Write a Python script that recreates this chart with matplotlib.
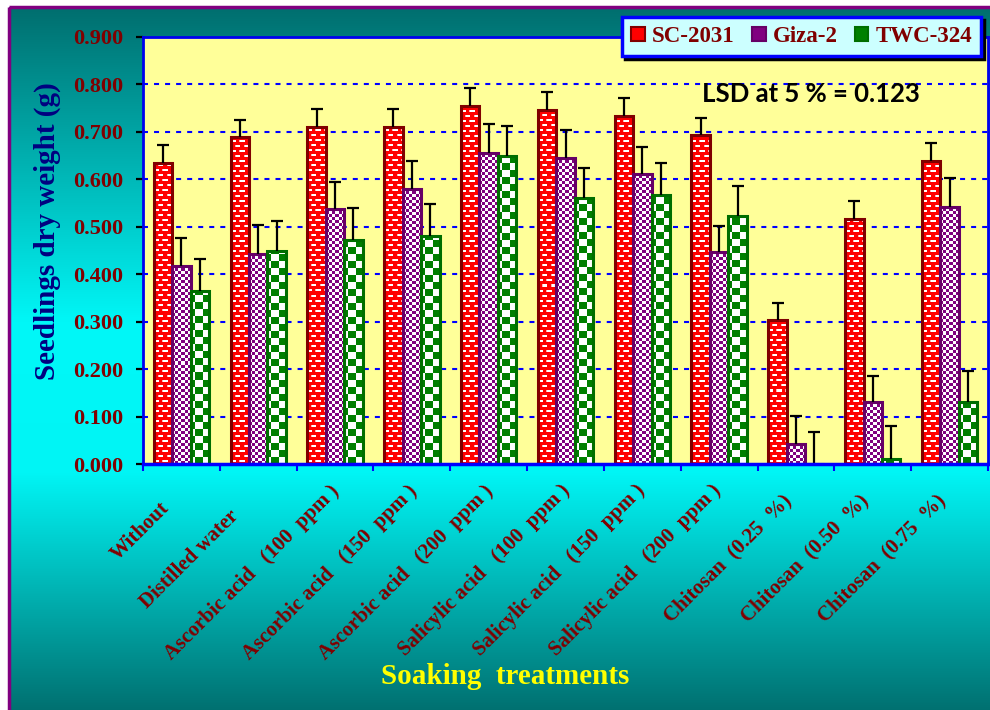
import numpy as np
import matplotlib
matplotlib.use("Agg")
import matplotlib.pyplot as plt
from matplotlib.patches import Patch, Rectangle

# ---------------- data ----------------
categories = ["Without", "Distilled water",
              "Ascorbic acid   (100  ppm )", "Ascorbic acid   (150  ppm )",
              "Ascorbic acid   (200  ppm )", "Salicylic acid   (100  ppm )",
              "Salicylic acid   (150  ppm )", "Salicylic acid   (200  ppm )",
              "Chitosan  (0.25  %)", "Chitosan  (0.50  %)", "Chitosan  (0.75  %)"]
series_names = ["SC-2031", "Giza-2", "TWC-324"]
sc_2031 = [0.635, 0.689, 0.711, 0.711, 0.754, 0.747, 0.733, 0.693, 0.304, 0.516, 0.638]
giza_2 = [0.418, 0.443, 0.538, 0.579, 0.656, 0.645, 0.612, 0.446, 0.042, 0.130, 0.542]
twc_324 = [0.365, 0.450, 0.472, 0.480, 0.649, 0.561, 0.568, 0.523, 0.000, 0.011, 0.130]
sc_err = [0.037, 0.037, 0.038, 0.038, 0.039, 0.038, 0.038, 0.037, 0.036, 0.038, 0.038]
giza_err = [0.058, 0.060, 0.057, 0.059, 0.060, 0.060, 0.056, 0.056, 0.059, 0.055, 0.060]
twc_err = [0.068, 0.063, 0.067, 0.067, 0.063, 0.062, 0.067, 0.064, 0.068, 0.069, 0.067]
y_ticks = [0.0, 0.1, 0.2, 0.3, 0.4, 0.5, 0.6, 0.7, 0.8, 0.9]
lsd_text = "LSD at 5 % = 0.123"

# ---------------- figure ----------------
W, H = 990, 710
fig = plt.figure(figsize=(W / 100, H / 100), dpi=100)
fig.patch.set_facecolor("white")

# background gradient
bg = fig.add_axes([0, 0, 1, 1], zorder=-10)
bg.set_xlim(0, W)
bg.set_ylim(H, 0)
bg.axis("off")
yy = np.arange(H)
v = np.interp(yy, [0, 320, 470, 710], [110, 248, 245, 112]) / 255.0
grad = np.zeros((H, 2, 3))
grad[:, :, 1] = v[:, None]
grad[:, :, 2] = v[:, None]
bg.imshow(grad, extent=(9, W, H, 7), aspect="auto", interpolation="bilinear")
bg.add_patch(Rectangle((8.5, 6.5), W + 10, H + 10, fill=False,
                       edgecolor="#800080", lw=2.5))

# main axes
ax = fig.add_axes([143 / W, 1 - 464 / H, 845 / W, 427 / H], zorder=1)
ax.set_facecolor("#ffff99")
ax.set_xlim(-0.5, len(categories) - 0.5)
ax.set_ylim(0, 0.9)

x = np.arange(len(categories))
bw = 0.24
series = [sc_2031, giza_2, twc_324]
errs = [sc_err, giza_err, twc_err]
base_cols = ["#ff0000", "#800080", "#008000"]
edge_cols = ["#800000", "#660066", "#006e00"]


def tile(kind, ph, pw):
    yy_, xx_ = np.mgrid[0:ph, 0:pw]
    img = np.zeros((ph, pw, 3))
    if kind == 0:
        img[:] = (1, 0, 0)
        row = yy_ // 5
        off = (row % 2) * 4
        m = ((yy_ % 5) >= 2) & ((yy_ % 5) <= 3) & (((xx_ + off) % 8) <= 4)
        img[m] = (1, 1, 1)
        img[m & (((xx_ + off) % 8) == 0)] = (1, 0.7, 0.7)
    elif kind == 1:
        m = ((yy_ // 3) + (xx_ // 3)) % 2 == 0
        img[:] = (0.5, 0.0, 0.5)
        img[m] = (1, 1, 1)
    else:
        m = ((yy_ // 7) + ((xx_ + 3) // 7)) % 2 == 0
        img[:] = (0.0, 0.5, 0.0)
        img[m] = (1, 1, 1)
    return img


for k in range(3):
    xs = x + (k - 1) * bw
    bars = ax.bar(xs, series[k], width=bw, color=base_cols[k], edgecolor="none",
                  zorder=3, label=series_names[k])
    for rect in bars:
        h = rect.get_height()
        if h <= 0:
            continue
        x0, y0, w = rect.get_x(), rect.get_y(), rect.get_width()
        p0 = ax.transData.transform((x0, y0))
        p1 = ax.transData.transform((x0 + w, y0 + h))
        pw = max(int(round(p1[0] - p0[0])), 1)
        ph = max(int(round(p1[1] - p0[1])), 1)
        im = ax.imshow(tile(k, ph, pw), extent=(x0, x0 + w, y0, y0 + h),
                       origin="lower", interpolation="nearest", aspect="auto",
                       zorder=3.2)
        im.set_clip_path(rect)
    ax.bar(xs, series[k], width=bw, fill=False, edgecolor=edge_cols[k],
           linewidth=2.2, zorder=3.5)
    tops = np.array(series[k]) + np.array(errs[k])
    ax.vlines(xs, series[k], tops, color="black", lw=1.6, zorder=5)
    ax.plot(xs, tops, ls="none", marker="_", ms=8, mew=1.6, color="black", zorder=5)

ax.set_xlim(-0.5, len(categories) - 0.5)
ax.set_ylim(0, 0.9)

# grid
for g in y_ticks[1:-1]:
    ax.axhline(g, color="#0000ff", lw=1.5, dashes=(2.4, 2.9), zorder=1)

# spines
for s in ["left", "top", "right"]:
    ax.spines[s].set_color("#0000ee")
    ax.spines[s].set_linewidth(2.0)
ax.spines["bottom"].set_color("#0000ff")
ax.spines["bottom"].set_linewidth(2.5)
ax.spines["left"].set_zorder(6)
ax.spines["bottom"].set_zorder(6)

# y ticks
serif = "Liberation Serif"
ax.set_yticks(y_ticks)
ax.set_yticklabels([f"{t:.3f}" for t in y_ticks], fontfamily=serif,
                   fontweight="bold", fontsize=16, color="#800000")
ax.tick_params(axis="y", direction="out", length=5, width=1.6, color="black", pad=9)

# x ticks at boundaries
ax.set_xticks(np.arange(len(categories) + 1) - 0.5)
ax.set_xticklabels([])
ax.tick_params(axis="x", direction="out", length=5, width=1.5, color="#0000ff")

# category labels
offs = [(-22, 34), (-30, 42), (-6, 17), (-5, 17), (-5, 17), (-5, 17), (-7, 17),
        (-8, 17), (-14, 27), (-14, 27), (-14, 27)]
for i, lab in enumerate(categories):
    dx, dy = offs[i]
    ax.annotate(lab, xy=(x[i], 0), xycoords="data",
                xytext=(dx * 0.72, -dy * 0.72), textcoords="offset points",
                rotation=45, rotation_mode="anchor", ha="right", va="top",
                fontfamily=serif, fontweight="bold", fontsize=15,
                color="#800000", annotation_clip=False)

# axis titles
fig.text(47 / W, 1 - 231 / H, "Seedlings dry weight (g)", rotation=90,
         ha="center", va="center", fontfamily=serif, fontweight="bold",
         fontsize=21, color="#000080")
fig.text(505 / W, 1 - 677 / H, "Soaking  treatments", ha="center", va="center",
         fontfamily=serif, fontweight="bold", fontsize=21, color="#ffff00")

# LSD
fig.text(702 / W, 1 - 94 / H, lsd_text, ha="left", va="center",
         fontfamily="Lato", fontweight="bold", fontsize=18.5, color="black")

# legend
handles = [Patch(facecolor=base_cols[k], edgecolor=edge_cols[k], linewidth=1.5)
           for k in range(3)]
leg = fig.legend(handles, series_names, loc="upper right",
                 bbox_to_anchor=(981 / W, 1 - 17 / H), ncol=3,
                 prop=dict(family=serif, weight="bold", size=16.5),
                 labelcolor="#800000", handlelength=0.6, handleheight=0.6,
                 handletextpad=0.3, columnspacing=0.75, borderpad=0.4,
                 borderaxespad=0, fancybox=False, framealpha=1,
                 facecolor="#ccffff", edgecolor="#0000ff",
                 shadow=dict(color="black", alpha=1))
leg.get_frame().set_linewidth(2.5)
leg.set_zorder(20)

fig.savefig("out.png", dpi=100, facecolor=fig.get_facecolor())
